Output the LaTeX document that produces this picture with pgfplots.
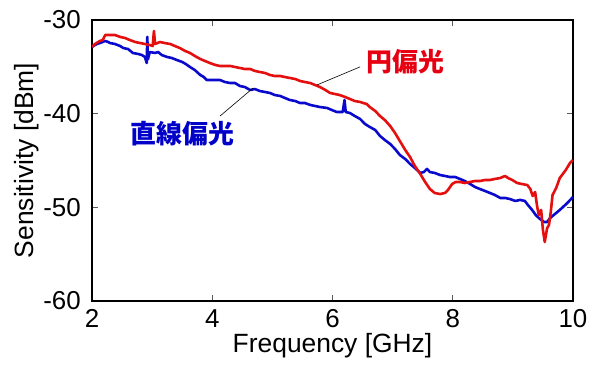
\documentclass[border=0pt]{standalone}
\usepackage{fontspec}
\setmainfont{Liberation Sans}
\newfontfamily\cjk{Noto Sans CJK JP}
\usepackage{pgfplots}
\pgfplotsset{compat=1.18}
\definecolor{cred}{RGB}{228,16,16}
\definecolor{cblue}{RGB}{10,10,205}
\definecolor{tred}{RGB}{230,0,18}
\definecolor{tblue}{RGB}{0,0,200}
\begin{document}
\begin{tikzpicture}
\useasboundingbox (-92bp,-66bp) rectangle (505bp,301bp);
\begin{axis}[
 scale only axis, width=481bp, height=281bp,
 xmin=2,xmax=10,ymin=-60,ymax=-30,
 xtick={2,4,6,8,10}, ytick={-60,-50,-40,-30},
 tick align=inside, major tick length=6bp,
 tick style={gray!70!black, line width=0.8bp},
 axis line style={line width=1.5bp},
 /pgf/number format/assume math mode=true,
 ticklabel style={font=\fontsize{26}{26}\selectfont, inner sep=0pt},
 xticklabel style={yshift=-8bp},
 yticklabel style={xshift=-11bp},
 xlabel={Frequency [GHz]}, ylabel={Sensitivity [dBm]},
 label style={font=\fontsize{26.5}{26.5}\selectfont},
 xlabel style={at={(axis description cs:0.5,-0.185)}, anchor=base},
 ylabel style={at={(axis description cs:-0.1216,0.5)}, anchor=base},
]
% blue: linear polarization
\addplot[cblue, line width=2.6bp, line join=round] coordinates {
(2.00,-32.88) (2.05,-32.67) (2.08,-32.56) (2.13,-32.46) (2.22,-32.24) (2.27,-32.35)
(2.30,-32.46) (2.38,-32.56) (2.47,-32.78) (2.52,-32.99) (2.60,-33.10) (2.68,-33.52)
(2.77,-33.63) (2.83,-33.74) (2.88,-33.95) (2.91,-34.59) (2.92,-31.80) (2.93,-34.20)
(2.96,-33.42) (3.05,-33.52) (3.10,-33.42) (3.16,-33.74) (3.25,-33.95) (3.33,-34.06)
(3.41,-34.27) (3.50,-34.48) (3.56,-34.70) (3.63,-35.02) (3.71,-35.34) (3.80,-35.87)
(3.86,-36.09) (3.91,-36.41) (4.01,-36.41) (4.13,-36.41) (4.21,-36.62) (4.30,-36.73)
(4.38,-36.73) (4.46,-37.05) (4.54,-37.15) (4.63,-37.47) (4.71,-37.37) (4.79,-37.58)
(4.88,-37.69) (4.96,-37.79) (5.04,-38.01) (5.13,-38.11) (5.21,-38.33) (5.29,-38.54)
(5.38,-38.65) (5.46,-38.86) (5.54,-38.86) (5.63,-39.07) (5.71,-39.18) (5.79,-39.29)
(5.91,-39.39) (5.99,-39.61) (6.07,-39.82) (6.17,-39.82) (6.20,-38.54) (6.22,-39.82)
(6.29,-39.93) (6.37,-40.25) (6.46,-40.57) (6.54,-41.10) (6.62,-41.42) (6.71,-41.74)
(6.79,-42.38) (6.87,-42.81) (6.96,-43.24) (7.04,-43.77) (7.12,-44.41) (7.21,-44.84)
(7.29,-45.37) (7.37,-45.80) (7.46,-46.33) (7.52,-46.23) (7.57,-45.90) (7.62,-46.23)
(7.70,-46.33) (7.79,-46.55) (7.87,-46.65) (7.95,-46.76) (8.04,-46.76) (8.12,-46.97)
(8.20,-47.19) (8.29,-47.51) (8.37,-47.83) (8.45,-48.04) (8.54,-48.26) (8.62,-48.47)
(8.70,-48.68) (8.79,-49.00) (8.87,-49.00) (8.95,-49.11) (9.04,-49.32) (9.12,-49.21)
(9.20,-49.32) (9.25,-49.75) (9.32,-50.28) (9.38,-50.82) (9.45,-51.24) (9.52,-51.57)
(9.57,-51.57) (9.62,-51.14) (9.70,-50.71) (9.78,-50.28) (9.87,-49.75) (9.92,-49.43)
(10.00,-48.90)
};
% red: circular polarization
\addplot[cred, line width=2.6bp, line join=round] coordinates {
(2.00,-32.88) (2.05,-32.56) (2.13,-32.24) (2.18,-32.14) (2.22,-31.60) (2.30,-31.60)
(2.38,-31.60) (2.47,-31.81) (2.55,-31.92) (2.63,-32.14) (2.72,-32.35) (2.80,-32.46)
(2.88,-32.56) (2.96,-32.67) (3.01,-32.78) (3.03,-31.17) (3.05,-32.56) (3.13,-32.35)
(3.21,-32.46) (3.30,-32.56) (3.38,-32.78) (3.46,-32.99) (3.55,-33.31) (3.63,-33.52)
(3.71,-33.84) (3.80,-34.16) (3.88,-34.38) (3.96,-34.59) (4.05,-34.80) (4.13,-34.91)
(4.21,-34.91) (4.30,-34.91) (4.38,-35.02) (4.46,-35.12) (4.54,-35.23) (4.63,-35.23)
(4.71,-35.44) (4.79,-35.55) (4.88,-35.66) (4.96,-35.87) (5.04,-35.98) (5.13,-35.98)
(5.21,-36.09) (5.29,-36.19) (5.38,-36.30) (5.46,-36.51) (5.54,-36.62) (5.63,-36.73)
(5.71,-36.94) (5.79,-37.15) (5.88,-37.47) (5.96,-37.79) (6.04,-37.90) (6.12,-38.01)
(6.21,-38.22) (6.29,-38.43) (6.37,-38.65) (6.46,-38.75) (6.51,-38.86) (6.57,-38.97)
(6.62,-39.29) (6.71,-39.71) (6.79,-40.25) (6.87,-40.68) (6.96,-41.32) (7.04,-42.06)
(7.12,-42.92) (7.21,-43.88) (7.29,-44.63) (7.37,-45.59) (7.46,-46.44) (7.54,-47.29)
(7.62,-48.04) (7.70,-48.47) (7.79,-48.58) (7.87,-48.47) (7.92,-48.15) (7.99,-47.51)
(8.05,-47.29) (8.12,-47.29) (8.20,-47.40) (8.29,-47.29) (8.37,-47.19) (8.45,-47.19)
(8.54,-47.08) (8.62,-47.08) (8.70,-46.97) (8.79,-46.87) (8.87,-46.65) (8.92,-46.87)
(8.99,-47.08) (9.07,-47.40) (9.15,-47.51) (9.24,-47.62) (9.29,-48.04) (9.33,-48.79)
(9.37,-48.36) (9.40,-49.75) (9.43,-50.82) (9.47,-50.28) (9.50,-52.42) (9.53,-53.70)
(9.57,-52.21) (9.60,-51.89) (9.63,-50.50) (9.66,-48.68) (9.72,-47.94) (9.78,-46.87)
(9.83,-46.44) (9.88,-46.01) (9.95,-45.27) (10.00,-44.95)
};
\draw[black, line width=0.6bp] (axis cs:5.74,-36.94) -- (axis cs:6.46,-35.0);
\draw[black, line width=0.6bp] (axis cs:4.13,-40.25) -- (axis cs:4.68,-37.26);
\node[tred, font=\cjk\bfseries\fontsize{26}{26}\selectfont, inner sep=0pt] at (axis cs:7.22,-34.43) {円偏光};
\node[tblue, font=\cjk\bfseries\fontsize{26}{26}\selectfont, inner sep=0pt] at (axis cs:3.51,-42.12) {直線偏光};
\end{axis}
\end{tikzpicture}
\end{document}
